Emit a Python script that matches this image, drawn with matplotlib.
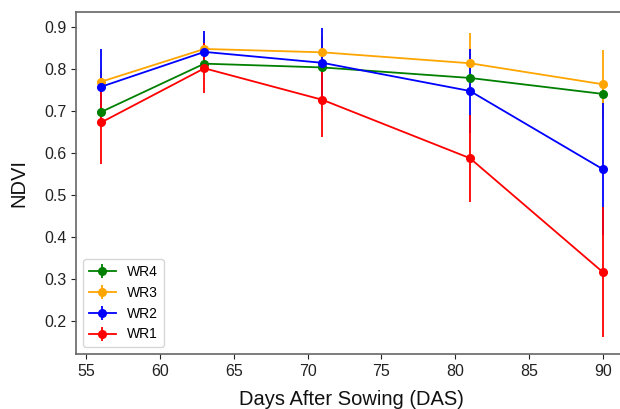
import numpy as np
import matplotlib
matplotlib.use('Agg')
import matplotlib.pyplot as plt

plt.rcParams['font.family'] = ['Liberation Sans', 'DejaVu Sans']

das = [56, 63, 71, 81, 90]

# series in plotting order (legend order)
names = ['WR4', 'WR3', 'WR2', 'WR1']
colors = ['green', 'orange', 'blue', 'red']
wr4 = [0.697, 0.812, 0.803, 0.778, 0.740]
wr3 = [0.769, 0.847, 0.839, 0.813, 0.763]
wr2 = [0.757, 0.840, 0.814, 0.747, 0.561]
wr1 = [0.672, 0.801, 0.726, 0.587, 0.316]
wr4_err = [0.02, 0.02, 0.02, 0.03, 0.03]
wr3_err = [0.03, 0.03, 0.04, 0.072, 0.082]
wr2_err = [0.09, 0.05, 0.083, 0.10, 0.157]
wr1_err = [0.10, 0.06, 0.089, 0.104, 0.155]

values = [wr4, wr3, wr2, wr1]
errors = [wr4_err, wr3_err, wr2_err, wr1_err]

fig = plt.figure(figsize=[6.2, 4.09], dpi=100)
ax = fig.add_axes([0.1226, 0.1345, 0.890, 0.8362])

for name, col, v, e in zip(names, colors, values, errors):
    ax.errorbar(das, v, yerr=e, color=col, marker='o', markersize=5.5,
                linewidth=1.3, elinewidth=1.3, label=name)

ax.set_xlim(54.3, 91.7)
ax.set_ylim(0.121, 0.935)
ax.set_xticks([55, 60, 65, 70, 75, 80, 85, 90])
ax.set_yticks([0.2, 0.3, 0.4, 0.5, 0.6, 0.7, 0.8, 0.9])
ax.tick_params(labelsize=11.5, colors='#222222')
for s in ax.spines.values():
    s.set_color('#666666')
    s.set_linewidth(1.2)

ax.set_xlabel('Days After Sowing (DAS)', fontsize=14.5, color='#111111', labelpad=8)
ax.set_ylabel('NDVI', fontsize=14.5, color='#111111', labelpad=11)
ax.legend(loc='lower left', fontsize=10, handlelength=2.0)

plt.savefig('out.png', dpi=100)
